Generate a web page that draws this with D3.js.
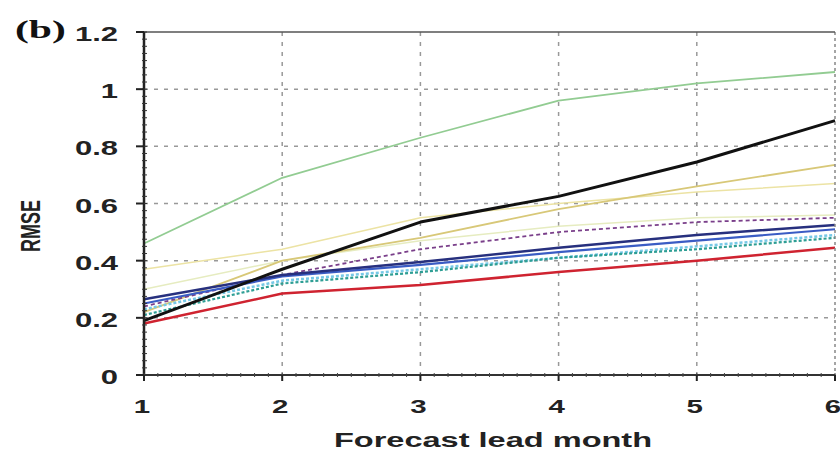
<!DOCTYPE html>
<html>
<head>
<meta charset="utf-8">
<script src="https://cdn.jsdelivr.net/npm/d3@7"></script>
<style>
  body { margin: 0; background: #fff; }
  svg { display: block; }
  .tick-lab { font-family: "Liberation Sans", Arial, sans-serif; font-weight: bold; font-size: 20px; fill: #222; }
</style>
</head>
<body>
<svg id="chart" width="840" height="452"></svg>
<script>
  // lead months
  var leads = [1, 2, 3, 4, 5, 6];
  var yTicks = [0, 0.2, 0.4, 0.6, 0.8, 1, 1.2];

  // RMSE per model
  var greenVals  = [0.46, 0.69, 0.83, 0.96, 1.02, 1.06];
  var blackVals  = [0.19, 0.37, 0.535, 0.625, 0.745, 0.89];
  var tanVals    = [0.22, 0.40, 0.48, 0.58, 0.66, 0.735];
  var paleVals   = [0.37, 0.44, 0.55, 0.60, 0.64, 0.67];
  var creamVals  = [0.30, 0.40, 0.47, 0.52, 0.55, 0.56];
  var purpleVals = [0.24, 0.35, 0.44, 0.50, 0.535, 0.55];
  var navyVals   = [0.265, 0.35, 0.395, 0.445, 0.49, 0.525];
  var blueVals   = [0.25, 0.345, 0.385, 0.43, 0.47, 0.51];
  var cyanVals   = [0.23, 0.33, 0.37, 0.41, 0.45, 0.49];
  var tealVals   = [0.21, 0.32, 0.36, 0.41, 0.44, 0.48];
  var redVals    = [0.18, 0.285, 0.315, 0.36, 0.40, 0.445];

(function() {
  'use strict';

  var series = [
    {vals: creamVals,  col: '#e6ecc0', w: 1.5},
    {vals: paleVals,   col: '#ece3a4', w: 1.5},
    {vals: tanVals,    col: '#d8c878', w: 1.8},
    {vals: greenVals,  col: '#92cc92', w: 1.8},
    {vals: cyanVals,   col: '#76c8e6', w: 2.5, dash: '3,2'},
    {vals: tealVals,   col: '#2e9e94', w: 2.2, dash: '3,2'},
    {vals: purpleVals, col: '#7a3f8a', w: 1.8, dash: '4,3'},
    {vals: blueVals,   col: '#3a5cc4', w: 2.2},
    {vals: navyVals,   col: '#27307e', w: 2.5},
    {vals: redVals,    col: '#cf2330', w: 2.5},
    {vals: blackVals,  col: '#111111', w: 3}
  ];

  var svg = d3.select('#chart');
  var pLeft = 144, pRight = 835, pTop = 32, pBottom = 375;
  var stretch = 1.55; // the source figure is stretched sideways

  var x = d3.scaleLinear().domain([1, 6]).range([pLeft, pRight]);
  var y = d3.scaleLinear().domain([0, 1.2]).range([pBottom, pTop]);

  // grid
  var grid = svg.append('g');
  grid.selectAll('.gy').data(yTicks.filter(function(d) { return d > 0 && d < 1.2; }))
    .enter().append('line')
    .attr('x1', pLeft).attr('x2', pRight)
    .attr('y1', function(d) { return y(d); }).attr('y2', function(d) { return y(d); })
    .attr('stroke', '#999').attr('stroke-width', 1.5).attr('stroke-dasharray', '4,6');
  grid.selectAll('.gx').data(leads.slice(1, 5))
    .enter().append('line')
    .attr('y1', pTop).attr('y2', pBottom)
    .attr('x1', function(d) { return x(d); }).attr('x2', function(d) { return x(d); })
    .attr('stroke', '#999').attr('stroke-width', 1.5).attr('stroke-dasharray', '4,6');

  // lines
  var line = d3.line()
    .x(function(d, i) { return x(leads[i]); })
    .y(function(d) { return y(d); });

  svg.append('g').selectAll('path').data(series).enter().append('path')
    .attr('d', function(s) { return line(s.vals); })
    .attr('fill', 'none')
    .attr('stroke', function(s) { return s.col; })
    .attr('stroke-width', function(s) { return s.w; })
    .attr('stroke-dasharray', function(s) { return s.dash || null; })
    .attr('stroke-linejoin', 'round');

  // frame
  svg.append('line').attr('x1', pRight).attr('x2', pRight).attr('y1', pTop).attr('y2', pBottom)
    .attr('stroke', '#888').attr('stroke-width', 1.5).attr('stroke-dasharray', '3,3');
  svg.append('line').attr('x1', pLeft).attr('x2', pRight).attr('y1', pTop).attr('y2', pTop)
    .attr('stroke', '#555').attr('stroke-width', 1.5);
  svg.append('line').attr('x1', pLeft).attr('x2', pRight).attr('y1', pBottom).attr('y2', pBottom)
    .attr('stroke', '#333').attr('stroke-width', 2);
  svg.append('line').attr('x1', pLeft).attr('x2', pLeft).attr('y1', pTop).attr('y2', pBottom)
    .attr('stroke', '#222').attr('stroke-width', 2.5);

  // minor ticks to give the hatched axis look
  var minorY = d3.range(0, 1.2001, 0.025);
  svg.append('g').selectAll('line').data(minorY).enter().append('line')
    .attr('x1', pLeft - 2).attr('x2', pLeft + 3)
    .attr('y1', function(d) { return y(d); }).attr('y2', function(d) { return y(d); })
    .attr('stroke', '#333').attr('stroke-width', 1);
  var minorX = d3.range(1, 6.001, 0.1);
  svg.append('g').selectAll('line').data(minorX).enter().append('line')
    .attr('y1', pBottom - 2).attr('y2', pBottom + 2)
    .attr('x1', function(d) { return x(d); }).attr('x2', function(d) { return x(d); })
    .attr('stroke', '#444').attr('stroke-width', 1);

  // major ticks
  svg.append('g').selectAll('line').data(yTicks).enter().append('line')
    .attr('x1', pLeft - 8).attr('x2', pLeft)
    .attr('y1', function(d) { return y(d); }).attr('y2', function(d) { return y(d); })
    .attr('stroke', '#222').attr('stroke-width', 2);
  svg.append('g').selectAll('line').data(leads).enter().append('line')
    .attr('y1', pBottom).attr('y2', pBottom + 6)
    .attr('x1', function(d) { return x(d); }).attr('x2', function(d) { return x(d); })
    .attr('stroke', '#222').attr('stroke-width', 2);

  // tick labels
  svg.append('g').selectAll('text').data(yTicks).enter().append('text')
    .attr('class', 'tick-lab')
    .attr('transform', function(d) { return 'translate(118,' + (y(d) + 9) + ') scale(' + stretch + ',1)'; })
    .attr('text-anchor', 'end')
    .text(function(d) { return d === 0 ? '0' : d === 1 ? '1' : d3.format('.1f')(d); });
  svg.append('g').selectAll('text').data(leads).enter().append('text')
    .attr('class', 'tick-lab')
    .style('font-size', '19px')
    .attr('transform', function(d) { return 'translate(' + (x(d) - 2) + ',413) scale(' + stretch + ',1)'; })
    .attr('text-anchor', 'middle')
    .text(function(d) { return d; });

  // titles
  svg.append('text')
    .attr('transform', 'translate(40,226) scale(' + stretch + ',1) rotate(-90)')
    .attr('text-anchor', 'middle')
    .style('font-family', '"Liberation Sans", Arial, sans-serif')
    .style('font-weight', 'bold').style('font-size', '18px').style('fill', '#222')
    .text('RMSE');
  svg.append('text')
    .attr('transform', 'translate(493,447) scale(' + stretch + ',1)')
    .attr('text-anchor', 'middle')
    .style('font-family', '"Liberation Sans", Arial, sans-serif')
    .style('font-weight', 'bold')
    .style('font-size', '21px').style('fill', '#222')
    .text('Forecast lead month');
  svg.append('text')
    .attr('transform', 'translate(15,38) scale(1.6,1)')
    .style('font-family', '"Liberation Serif", "Times New Roman", serif')
    .style('font-weight', 'bold').style('font-size', '26px').style('fill', '#111')
    .text('(b)');
}());
</script>
</body>
</html>
